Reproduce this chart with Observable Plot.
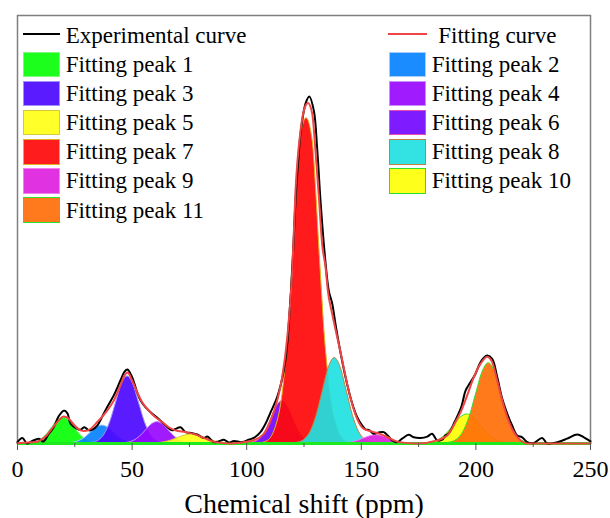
<!DOCTYPE html>
<html><head><meta charset="utf-8">
<script src="https://cdn.jsdelivr.net/npm/d3@7"></script>
<script src="https://cdn.jsdelivr.net/npm/@observablehq/plot@0.6"></script>
<style>
body{margin:0;background:#fff;}
#chart{position:relative;width:610px;height:518px;font-family:"Liberation Serif","Times New Roman",serif;}
#chart svg{position:absolute;left:0;top:0;}
.lg{position:absolute;font-size:23px;line-height:23px;white-space:nowrap;color:#000;font-family:"Liberation Serif","Times New Roman",serif;}
.sw{position:absolute;box-sizing:border-box;}
.ln{position:absolute;height:2px;}
</style></head><body><div id="chart"></div>
<script>
// ---- data (ppm, intensity) ----
const xTicks = [0, 50, 100, 150, 200, 250];
const minorTicks = [25, 75, 125, 175, 225];
const xLabel = "Chemical shift (ppm)";
const curveLabels = ["Experimental curve", "Fitting curve"];
const curveColors = ["#000000", "#F04545"];
const peakLabels = ["Fitting peak 1","Fitting peak 2","Fitting peak 3","Fitting peak 4","Fitting peak 5","Fitting peak 6","Fitting peak 7","Fitting peak 8","Fitting peak 9","Fitting peak 10","Fitting peak 11"];
// legend swatch colours
const peakColors = ["#1CFF1C","#1A8CFF","#5A1CFF","#A01CFF","#FFFF2A","#7F1CFF","#FF1C1C","#33E3E3","#E032E0","#FFFF1C","#FF7A1C"];
// fill colours used under the 0.92 fill opacity in the plot
const peakFills = ["#08FF08","#0682FF","#4C08FF","#9808FF","#FFFF18","#7408FF","#FF0808","#21E1E1","#DD20DD","#FFFF08","#FF6F08"];
const peakStrokes = ["#80F880","#A8CCF8","#A090F8","#C890F8","#D8C83C","#E050B0","#E0B020","#C08040","#F080F0","#2DE02D","#2DE02D"];

const expX = [0,2.1,4.2,6.1,9.3,11.3,13.5,15.8,17.9,20.2,21.8,23.1,26.0,27.5,29.2,31.1,32.7,34.8,37.0,39.1,42.0,44.9,46.7,48.0,50.0,52.2,53.7,55.8,58.8,61.6,64.6,67.5,68.9,71.1,73.3,76.2,78.4,81.3,82.8,85.6,87.7,90.0,92.2,94.4,98.0,100.9,103.1,106.0,108.2,110.4,113.3,116.2,117.7,118.4,119.3,120.3,121.3,122.4,123.5,125.7,127.3,129.3,130.8,132.2,133.9,135.8,137.3,138.7,140.2,143.1,146.0,148.2,150.4,152.0,153.3,155.5,157.6,159.8,161.5,163.5,165.7,167.8,170.7,172.9,175.8,178.8,180.9,183.1,185.3,186.7,188.2,190.7,193.6,195.5,197.6,199.8,202.0,204.9,207.1,209.3,211.5,213.7,215.8,218.0,220.2,222.4,225.1,228.9,231.1,235.5,239.8,244.2,247.1,249.3,250];
const expY = [0.4,1.6,0,0.6,1.4,0.6,2.6,4.7,7.8,9.5,8.7,5.8,4.2,4.0,4.7,3.8,4.0,5.2,7.8,10.5,13.9,18.2,20.8,21.4,19.2,14.8,12.4,10.5,8.6,7.1,5.2,3.8,4.2,4.7,3.3,3.0,2.6,1.6,2.0,0.4,0.6,1.1,0.3,0.7,0.4,1.1,1.6,3.3,5.7,9.0,13.4,21.1,28.9,35,44,56,70.2,81,89.6,98.3,100.3,96.2,84.7,70.2,55.8,44.2,40.5,34.7,28.9,19.2,11.6,7.6,5.2,4.0,3.9,2.8,3.2,3.3,2.3,0.9,0.4,1.4,2.5,1.8,1.6,2.0,2.8,0.9,1.1,2.3,3.0,6.2,10.5,15.3,17.7,20.1,23.5,25.4,24.5,19.2,12.9,8.6,5.2,2.3,1.8,0.4,0.1,1.6,0,0.4,1.4,2.6,1.8,0.9,0.6];

const fitX = [0,7.9,12.2,15.7,17.9,20.1,22.3,24.9,27.5,29.2,31.8,34.8,39.1,42.0,44.9,46.7,48.0,50.0,52.2,54.4,57.3,60.2,63.1,66.0,68.9,73.3,77.7,82.0,86.4,92.9,101.7,107.5,110.4,113.3,115.5,117.7,119.9,121.3,123.5,125.7,126.7,128.6,130.0,131.5,132.9,134.4,135.4,137.3,139.5,141.7,143.8,146.0,148.2,151.1,155.5,158.4,162.7,166.4,174.4,183.1,187.5,191.8,193.3,196.2,199.1,202.0,204.9,207.1,209.3,211.5,213.7,215.8,218.7,222.4,250];
const fitY = [0.1,0.4,2.0,4.9,6.6,7.8,7.2,5.2,3.8,3.6,4.2,6.2,9.5,12.4,16.8,19.7,20.5,18.2,14.8,11.9,9.5,7.6,6.2,4.7,3.8,3.3,2.6,1.4,0.4,0,0.7,2.8,6.6,12.4,19.2,30.7,50.0,73.1,90.5,97.7,98.4,95.3,84.7,71.2,57.7,51.0,44.2,37.5,30.7,24.0,17.3,11.5,7.1,4.2,3.3,2.7,1.4,0.4,0,0.9,2.3,7.1,9.0,13.9,19.2,23.0,25.1,23.5,18.2,12.4,7.6,4.2,1.4,0,0];

const peak1 = [[2.5,0.02],[5,0.08],[7.5,0.33],[10,1.01],[12.5,2.44],[15,4.55],[17.5,6.62],[20,7.5],[22.5,6.62],[25,4.55],[27.5,2.44],[30,1.01],[32.5,0.33],[35,0.08],[37.5,0.02]];
const peak2 = [[19.5,0.01],[22,0.06],[24.5,0.23],[27,0.70],[29.5,1.69],[32,3.15],[34.5,4.59],[37,5.2],[39.5,4.59],[42,3.15],[44.5,1.69],[47,0.70],[49.5,0.23],[52,0.06],[54.5,0.01]];
const peak3 = [[30.5,0.04],[33,0.22],[35.5,0.85],[38,2.62],[40.5,6.30],[43,11.77],[45.5,17.12],[48,19.4],[50.5,17.12],[53,11.77],[55.5,6.30],[58,2.62],[60.5,0.85],[63,0.22],[65.5,0.04]];
const peak4 = [[43.5,0.01],[46,0.07],[48.5,0.27],[51,0.84],[53.5,2.01],[56,3.76],[58.5,5.47],[61,6.2],[63.5,5.47],[66,3.76],[68.5,2.01],[71,0.84],[73.5,0.27],[76,0.07],[78.5,0.01]];
const peak5 = [[55,0.01],[58,0.03],[61,0.11],[64,0.35],[67,0.84],[70,1.58],[73,2.29],[76,2.6],[79,2.29],[82,1.58],[85,0.84],[88,0.35],[91,0.11],[94,0.03],[97,0.01]];
const peak6 = [[99.4,0.03],[101.7,0.13],[104,0.54],[106.3,1.65],[108.6,3.96],[110.9,7.40],[113.2,10.77],[115.5,12.2],[117.8,10.77],[120.1,7.40],[122.4,3.96],[124.7,1.65],[127,0.54],[129.3,0.13],[131.6,0.03]];
const peak7 = [[105,0],[108.6,0.5],[112.7,4.7],[115.7,14.5],[117.2,24.0],[118.4,33.6],[119.3,43.2],[120.7,58.8],[121.9,73.3],[123.4,87.4],[126.1,94],[128.8,87.4],[130.3,73.3],[131.5,58.8],[132.9,43.2],[133.8,33.6],[135.0,24.0],[136.5,14.5],[139.5,4.7],[143.6,0.5],[147.2,0]];
const peak8 = [[119.85,0.05],[122.5,0.27],[125.15,1.08],[127.8,3.34],[130.45,8.02],[133.1,14.98],[135.75,21.80],[138.4,24.7],[141.05,21.80],[143.7,14.98],[146.35,8.02],[149.0,3.34],[151.65,1.08],[154.3,0.27],[156.95,0.05]];
const peak9 = [[138.05,0.01],[140.7,0.03],[143.35,0.11],[146.0,0.32],[148.65,0.78],[151.3,1.46],[153.95,2.12],[156.6,2.4],[159.25,2.12],[161.9,1.46],[164.55,0.78],[167.2,0.32],[169.85,0.11],[172.5,0.03],[175.15,0.01]];
const peak10 = [[175.2,0.02],[178.2,0.09],[181.2,0.37],[184.2,1.14],[187.2,2.73],[190.2,5.09],[193.2,7.41],[196.2,8.4],[199.2,7.41],[202.2,5.09],[205.2,2.73],[208.2,1.14],[211.2,0.37],[214.2,0.09],[217.2,0.02]];
const peak11 = [[186.0,0.05],[188.8,0.26],[191.6,1.02],[194.4,3.14],[197.2,7.53],[200.0,14.07],[202.8,20.47],[205.6,23.2],[208.4,20.47],[211.2,14.07],[214.0,7.53],[216.8,3.14],[219.6,1.02],[222.4,0.26],[225.2,0.05]];
const peaks = [peak1,peak2,peak3,peak4,peak5,peak6,peak7,peak8,peak9,peak10,peak11];

// ---- chart ----
const expData = expX.map((x, i) => ({x, y: expY[i]}));
const fitData = fitX.map((x, i) => ({x, y: fitY[i]}));

const marks = [];
peaks.forEach((p, i) => {
  marks.push(Plot.areaY(p, {x: d => d[0], y: d => d[1], curve: "monotone-x",
    fill: peakFills[i], fillOpacity: 0.92, stroke: peakStrokes[i], strokeWidth: 1}));
});
marks.push(Plot.frame({stroke: "#7f7f7f", strokeWidth: 1.5}));
marks.push(Plot.ruleY([0], {stroke: "#1EE81E", strokeWidth: 3}));
marks.push(Plot.line(expData, {x: "x", y: "y", curve: "catmull-rom", stroke: curveColors[0], strokeWidth: 2}));
marks.push(Plot.line(fitData, {x: "x", y: "y", curve: "monotone-x", stroke: curveColors[1], strokeWidth: 2}));
marks.push(Plot.axisX({ticks: xTicks, tickSize: 7, tickPadding: 9, fontSize: 24, stroke: "#555", fill: "black", label: null, fontFamily: "Liberation Serif"}));
marks.push(Plot.axisX({ticks: minorTicks, tickSize: 4, tickFormat: () => "", stroke: "#555", label: null}));
marks.push(Plot.text([xLabel], {text: d => d, frameAnchor: "bottom", dy: 61, fontSize: 28, lineAnchor: "middle", fill: "black", fontFamily: "Liberation Serif"}));

const chart = Plot.plot({
  width: 610, height: 518,
  marginLeft: 17, marginRight: 20, marginTop: 15, marginBottom: 75,
  x: {domain: [0, 250]},
  y: {domain: [0, 123.7], axis: null},
  style: {fontFamily: "'Liberation Serif', 'Times New Roman', serif", background: "white", color: "black", overflow: "visible"},
  marks
});
const root = document.getElementById("chart");
root.appendChild(chart);

// ---- legend (HTML overlay inside the frame) ----
function rowCenter(r) { return 35.4 + 29.1 * r; }
function addText(txt, x, cy) {
  const d = document.createElement("div"); d.className = "lg"; d.textContent = txt;
  d.style.left = x + "px"; d.style.top = (cy - 11.5) + "px"; root.appendChild(d);
}
function addLine(color, x, w, cy) {
  const d = document.createElement("div"); d.className = "ln";
  d.style.left = x + "px"; d.style.width = w + "px"; d.style.top = (cy - 1) + "px"; d.style.background = color; root.appendChild(d);
}
function addSwatch(fill, stroke, x, w, cy) {
  const d = document.createElement("div"); d.className = "sw";
  d.style.left = x + "px"; d.style.width = w + "px"; d.style.top = (cy - 12.8) + "px"; d.style.height = "25.6px";
  d.style.background = fill; d.style.border = "1.5px solid " + stroke; root.appendChild(d);
}
addLine(curveColors[0], 22.7, 37.3, 34.3);
addText(curveLabels[0], 65.7, rowCenter(0));
addLine(curveColors[1], 388.3, 38.4, 34.3);
addText(curveLabels[1], 438.3, rowCenter(0));
peakLabels.forEach((lab, i) => {
  const left = i % 2 === 0;
  const row = Math.floor(i / 2) + 1;
  const cy = rowCenter(row);
  if (left) { addSwatch(peakColors[i], peakStrokes[i], 22.7, 37.3, cy); addText(lab, 65.7, cy); }
  else { addSwatch(peakColors[i], peakStrokes[i], 389, 36.7, cy); addText(lab, 431.7, cy); }
});
</script></body></html>
